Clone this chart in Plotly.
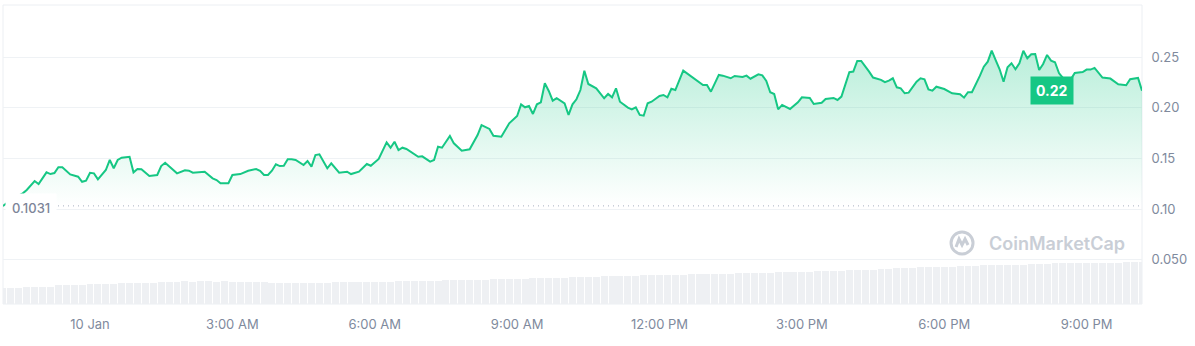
import pandas as pd
import plotly.graph_objects as go

# ---------------- data ----------------
start_time = "2024-01-09 22:10"

# minutes after start_time, price (USD)
price_minutes = [
    0, 10, 25, 30, 40, 45, 55, 60, 65, 70, 75, 85, 95, 100, 105, 110, 115, 120,
    130, 135, 140, 145, 150, 160, 165, 170, 175, 185, 195, 200, 205, 215, 220,
    230, 235, 240, 255, 265, 270, 275, 285, 290, 300, 310, 320, 325, 330, 335,
    340, 345, 350, 355, 360, 365, 370, 380, 385, 390, 395, 400, 410, 415, 425,
    435, 440, 450, 460, 465, 475, 485, 490, 495, 500, 505, 510, 525, 530, 540,
    545, 550, 555, 565, 570, 580, 590, 600, 605, 615, 620, 630, 640, 650, 655,
    660, 665, 670, 675, 680, 685, 690, 695, 700, 710, 715, 720, 725, 730, 735,
    740, 750, 760, 765, 770, 775, 780, 790, 795, 800, 805, 810, 815, 820, 830,
    835, 840, 845, 850, 860, 870, 875, 885, 890, 895, 905, 910, 920, 925, 935,
    940, 945, 955, 960, 965, 970, 975, 980, 985, 995, 1005, 1010, 1020, 1025,
    1035, 1040, 1050, 1055, 1060, 1070, 1075, 1080, 1085, 1095, 1100, 1110,
    1115, 1120, 1125, 1130, 1135, 1140, 1145, 1155, 1160, 1165, 1170, 1175,
    1180, 1190, 1200, 1210, 1215, 1220, 1225, 1235, 1240, 1245, 1250, 1255,
    1260, 1265, 1270, 1275, 1280, 1285, 1290, 1295, 1300, 1305, 1310, 1315,
    1320, 1325, 1330, 1335, 1340, 1350, 1355, 1365, 1370, 1375, 1380, 1390,
    1400, 1410, 1420, 1425, 1435, 1440,
]
prices = [
    0.1031, 0.1090, 0.1155, 0.1188, 0.1276, 0.1247, 0.1362, 0.1345, 0.1355,
    0.1412, 0.1412, 0.1342, 0.1319, 0.1269, 0.1279, 0.1358, 0.1352, 0.1293,
    0.1385, 0.1484, 0.1402, 0.1484, 0.1506, 0.1516, 0.1362, 0.1395, 0.1392,
    0.1326, 0.1336, 0.1424, 0.1457, 0.1392, 0.1352, 0.1382, 0.1378, 0.1358,
    0.1368, 0.1303, 0.1286, 0.1254, 0.1254, 0.1336, 0.1345, 0.1378, 0.1395,
    0.1378, 0.1336, 0.1336, 0.1378, 0.1441, 0.1424, 0.1427, 0.1491, 0.1491,
    0.1484, 0.1434, 0.1474, 0.1418, 0.1533, 0.1540, 0.1402, 0.1451, 0.1358,
    0.1368, 0.1345, 0.1368, 0.1444, 0.1427, 0.1494, 0.1658, 0.1605, 0.1664,
    0.1582, 0.1605, 0.1592, 0.1516, 0.1520, 0.1467, 0.1484, 0.1615, 0.1605,
    0.1721, 0.1648, 0.1575, 0.1589, 0.1730, 0.1829, 0.1790, 0.1723, 0.1714,
    0.1846, 0.1918, 0.2033, 0.2004, 0.2017, 0.1938, 0.2033, 0.2053, 0.2241,
    0.2165, 0.2069, 0.2093, 0.2043, 0.1928, 0.2033, 0.2083, 0.2174, 0.2365,
    0.2234, 0.2191, 0.2093, 0.2135, 0.2102, 0.2191, 0.2059, 0.2000, 0.1984,
    0.2004, 0.1928, 0.1921, 0.2043, 0.2059, 0.2115, 0.2125, 0.2102, 0.2187,
    0.2174, 0.2365, 0.2306, 0.2280, 0.2224, 0.2224, 0.2158, 0.2323, 0.2316,
    0.2290, 0.2313, 0.2303, 0.2316, 0.2286, 0.2329, 0.2319, 0.2263, 0.2152,
    0.2135, 0.1984, 0.2027, 0.1987, 0.2053, 0.2102, 0.2096, 0.2036, 0.2049,
    0.2086, 0.2096, 0.2076, 0.2109, 0.2350, 0.2356, 0.2461, 0.2461, 0.2356,
    0.2297, 0.2274, 0.2251, 0.2267, 0.2290, 0.2201, 0.2191, 0.2142, 0.2148,
    0.2257, 0.2290, 0.2280, 0.2181, 0.2168, 0.2207, 0.2184, 0.2142, 0.2132,
    0.2099, 0.2152, 0.2152, 0.2313, 0.2404, 0.2454, 0.2562, 0.2470, 0.2379,
    0.2256, 0.2398, 0.2438, 0.2379, 0.2438, 0.2562, 0.2487, 0.2527, 0.2530,
    0.2372, 0.2431, 0.2520, 0.2464, 0.2448, 0.2342, 0.2293, 0.2280, 0.2342,
    0.2352, 0.2376, 0.2376, 0.2392, 0.2297, 0.2287, 0.2231, 0.2221, 0.2280,
    0.2293, 0.2168,
]

# volume bars every 10 minutes (millions, relative)
volume_step_minutes = 10
volumes = [
    16.0, 16.2, 16.1,
    17.3, 17.4, 17.2, 17.5,
    19.0, 19.1, 18.9, 19.2,
    20.1, 20.0, 20.2, 20.3,
    21.0, 21.2, 21.1, 21.3, 21.2,
    22.3, 22.5, 22.4, 22.6, 22.5, 22.7, 22.6, 22.5, 22.6, 22.4, 22.5, 22.3, 22.4, 22.2,
    21.0, 21.1, 20.9, 21.0, 21.2, 21.1, 21.0, 21.3,
    22.0, 22.1, 21.9, 22.2, 22.0, 22.4, 22.3, 22.5, 22.6,
    23.0, 23.1, 23.3, 23.2, 23.5, 23.6, 23.8, 24.0, 24.1, 24.3, 24.4, 24.6,
    25.0, 25.2, 25.3, 25.5, 25.8, 26.0, 26.1, 26.3, 26.5, 26.8, 27.0, 27.2, 27.4,
    27.8, 28.0, 28.1, 28.3, 28.4, 28.6, 28.8, 29.0, 29.1, 29.3, 29.4, 29.6,
    29.8, 30.0, 30.1, 30.3, 30.5, 30.6, 30.8, 31.0, 31.2, 31.4, 31.6, 31.8, 32.0,
    32.3, 32.5, 32.8, 33.0, 33.2, 33.4, 33.6, 33.8, 34.1, 34.4, 34.8, 35.2, 35.6,
    36.0, 36.3,
    37.0, 37.3, 37.4, 37.2, 37.5, 37.8, 38.0, 38.3,
    38.8, 39.0, 39.1, 39.0, 39.3, 39.5, 39.8,
    40.3, 40.5, 40.7, 40.6, 40.8, 40.7, 41.0, 40.9, 41.1, 41.3, 41.4, 41.6, 41.8, 42.0,
]

x_tick_times = ["2024-01-10 00:00", "2024-01-10 03:00", "2024-01-10 06:00",
                "2024-01-10 09:00", "2024-01-10 12:00", "2024-01-10 15:00",
                "2024-01-10 18:00", "2024-01-10 21:00"]
x_tick_labels = ["10 Jan", "3:00 AM", "6:00 AM", "9:00 AM", "12:00 PM",
                 "3:00 PM", "6:00 PM", "9:00 PM"]
y_tick_vals = [0.05, 0.10, 0.15, 0.20, 0.25]
y_tick_labels = ["0.050", "0.10", "0.15", "0.20", "0.25"]

# ---------------- figure ----------------
base = pd.Timestamp(start_time)
price_times = [base + pd.Timedelta(minutes=m) for m in price_minutes]
vol_times = [base + pd.Timedelta(minutes=volume_step_minutes * i) for i in range(len(volumes))]
open_price = prices[0]
last_price = prices[-1]

GREEN = "#16c784"
GREY_TXT = "#808a9d"
GRID = "#eff2f5"
FONT = "Inter"

fig = go.Figure()

# volume bars (secondary axis)
fig.add_trace(go.Bar(
    x=vol_times, y=volumes, yaxis="y2",
    marker=dict(color="#eef0f3", line=dict(width=0)),
    width=volume_step_minutes * 60 * 1000 * 0.88,
    hoverinfo="skip", showlegend=False,
))

# baseline (opening price) dotted line
fig.add_trace(go.Scatter(
    x=price_times, y=[open_price] * len(price_times),
    mode="lines", line=dict(color="#a7b0c0", width=1, dash="1px,4px"),
    hoverinfo="skip", showlegend=False,
))

# price line with gradient fill to baseline
fig.add_trace(go.Scatter(
    x=price_times, y=prices, mode="lines",
    line=dict(color=GREEN, width=2),
    fill="tonexty",
    fillgradient=dict(type="vertical",
                      colorscale=[[0, "rgba(22,199,132,0.0)"],
                                  [1, "rgba(22,199,132,0.30)"]]),
    showlegend=False,
))

end_time = base + pd.Timedelta(minutes=1440)

fig.update_layout(
    width=1195, height=346,
    margin=dict(l=3, r=53, t=5, b=42),
    paper_bgcolor="white", plot_bgcolor="white",
    font=dict(family=FONT, color=GREY_TXT, size=13),
    showlegend=False,
    bargap=0,
    xaxis=dict(
        type="date", range=[base, end_time],
        tickvals=x_tick_times, ticktext=x_tick_labels,
        showgrid=False, zeroline=False, showline=False,
        ticks="outside", ticklen=8, tickcolor="rgba(0,0,0,0)",
        tickfont=dict(family=FONT, size=13, color=GREY_TXT),
    ),
    yaxis=dict(
        side="right", range=[0.0063, 0.3013],
        tickvals=y_tick_vals, ticktext=y_tick_labels,
        showgrid=True, gridcolor=GRID, gridwidth=1,
        zeroline=False, showline=False,
        ticks="outside", ticklen=6, tickcolor="rgba(0,0,0,0)",
        tickfont=dict(family=FONT, size=13, color=GREY_TXT),
    ),
    yaxis2=dict(
        overlaying="y", range=[0, 299], visible=False, fixedrange=True,
    ),
)

# plot border
fig.add_shape(type="rect", xref="paper", yref="paper", x0=0, x1=1, y0=0, y1=1,
              line=dict(color="#eceff3", width=1), layer="below")

# opening price label (white box hides the start of the line)
fig.add_annotation(
    xref="paper", x=0, xanchor="left", xshift=2,
    yref="y", y=open_price, yanchor="middle", yshift=-2,
    text=f"{open_price:.4f}", showarrow=False,
    font=dict(family=FONT, size=13, color="#7d8598", weight=500),
    bgcolor="white", borderpad=6,
)

# last price badge
fig.add_annotation(
    xref="paper", x=0.9214, xanchor="center",
    yref="y", y=last_price, yanchor="middle",
    text=f"<b>{last_price:.2f}</b>", showarrow=False,
    font=dict(family=FONT, size=14, color="white"),
    bgcolor=GREEN, borderpad=5,
)

# watermark
WM = "#c9ced6"
fig.add_annotation(
    xref="paper", x=0.8639, xanchor="left",
    yref="paper", y=0.2007, yanchor="middle",
    text="CoinMarketCap", showarrow=False,
    font=dict(family=FONT, size=18, color=WM, weight=600),
)
fig.add_shape(type="circle", xref="paper", yref="paper",
              xsizemode="pixel", ysizemode="pixel",
              xanchor=0.842, yanchor=0.204,
              x0=-11, x1=11, y0=-11, y1=11,
              line=dict(color=WM, width=3))
fig.add_shape(type="path", xref="paper", yref="paper",
              xsizemode="pixel", ysizemode="pixel",
              xanchor=0.842, yanchor=0.204,
              path="M -6,-4 L -3,4 L 0,-2 L 3,4 L 6,-2",
              line=dict(color=WM, width=3))

fig.write_html("out.html")
